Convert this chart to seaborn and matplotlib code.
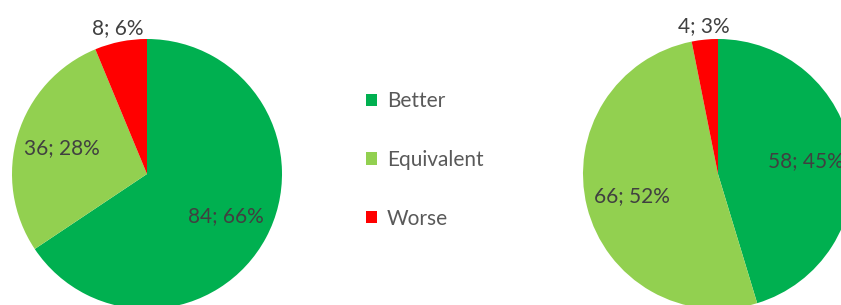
import numpy as np
import matplotlib
matplotlib.use('Agg')
import matplotlib.pyplot as plt
from matplotlib.patches import Patch
import seaborn as sns

# dados
categorias = ['Better', 'Equivalent', 'Worse']
valores_esq = [84, 36, 8]
valores_dir = [58, 66, 4]
cores = ['#00B050', '#92D050', '#FF0000']

sns.set_theme(style='white')
plt.rcParams['font.family'] = ['Lato', 'DejaVu Sans']

W, H = 841, 305
fig = plt.figure(figsize=(W / 100, H / 100), dpi=100)
fig.patch.set_facecolor('white')
paleta = sns.color_palette(cores)

raio_px = 135


def desenha_pizza(cx, cy, valores):
    # eixo quadrado em pixels, centrado no centro da pizza (cy medido do topo)
    ax = fig.add_axes([(cx - raio_px) / W, (H - cy - raio_px) / H,
                       2 * raio_px / W, 2 * raio_px / H])
    wedges, _ = ax.pie(valores, colors=paleta, startangle=90, counterclock=False,
                       radius=1, wedgeprops=dict(linewidth=0))
    total = sum(valores)
    for w, v in zip(wedges, valores):
        frac = v / total
        ang = np.deg2rad((w.theta1 + w.theta2) / 2)
        dist = 1.10 if frac < 0.1 else 0.66
        ax.text(dist * np.cos(ang), dist * np.sin(ang),
                f'{v}; {round(frac * 100):.0f}%',
                ha='center', va='center', fontsize=15, color='#404040',
                clip_on=False)
    ax.set_xlim(-1, 1)
    ax.set_ylim(-1, 1)
    ax.set_aspect('equal')
    ax.axis('off')
    return ax


desenha_pizza(147, 174, valores_esq)
desenha_pizza(718, 174, valores_dir)

handles = [Patch(facecolor=c, edgecolor='none') for c in paleta]
fig.legend(handles, categorias, loc='center left',
           bbox_to_anchor=(366 / W, 1 - 160 / H), frameon=False,
           fontsize=15, labelcolor='#595959', handlelength=0.55,
           handleheight=0.55, handletextpad=0.45, labelspacing=1.85,
           borderpad=0, borderaxespad=0)

fig.savefig('out.png', dpi=100)
